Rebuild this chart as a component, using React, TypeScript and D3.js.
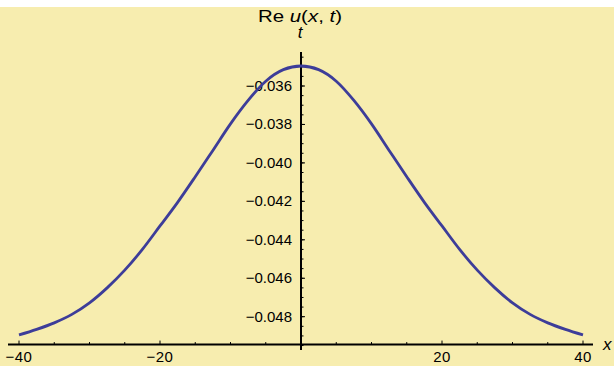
import React from 'react';
import * as d3 from 'd3';

// Values: Re u(x, t) against x
const xValues = [
  -40, -37.5, -35, -32.5, -30, -27.5, -25, -22.5, -20, -17.5, -15, -12.5, -10, -7.5, -5, -2.5,
  0, 2.5, 5, 7.5, 10, 12.5, 15, 17.5, 20, 22.5, 25, 27.5, 30, 32.5, 35, 37.5, 40,
];
const reU = [
  -0.04895, -0.04866, -0.04832, -0.04788, -0.04728, -0.0465, -0.04558, -0.0445, -0.04328,
  -0.04205, -0.04072, -0.03935, -0.03797, -0.03675, -0.03575, -0.03515, -0.03496, -0.03515,
  -0.03575, -0.03675, -0.03797, -0.03935, -0.04072, -0.04205, -0.04328, -0.0445, -0.04558,
  -0.0465, -0.04728, -0.04788, -0.04832, -0.04866, -0.04895,
];

const xMajorTicks = [-40, -20, 20, 40];
const xTickLabels = ['−40', '−20', '20', '40'];
const yMajorTicks = [-0.048, -0.046, -0.044, -0.042, -0.04, -0.038, -0.036];
const yTickLabels = ['−0.048', '−0.046', '−0.044', '−0.042', '−0.040', '−0.038', '−0.036'];

const W = 614;
const H = 366;
const font = '"Liberation Sans", Arial, sans-serif';

export default function App() {
  const x = d3.scaleLinear().domain([-40, 40]).range([19, 583]);
  const y = d3.scaleLinear().domain([-0.048, -0.036]).range([316.7, 86]);

  const xAxisY = y(-0.04945);
  const x0 = x(0);

  const pts = xValues.map((v, i) => [v, reU[i]] as [number, number]);
  const line = d3
    .line<[number, number]>()
    .x((d) => x(d[0]))
    .y((d) => y(d[1]))
    .curve(d3.curveMonotoneX);

  const xMinor = d3.range(-40, 40.1, 5);
  const yMinor = d3.range(-0.0495, -0.0342, 0.0005);

  return (
    <svg
      width={W}
      height={H}
      style={{ position: 'fixed', left: 0, top: 0 }}
      fontFamily={font}
    >
      <rect x={0} y={0} width={W} height={H} fill="#ffffff" />
      <rect x={0} y={7} width={W} height={H - 7} fill="#f7edaf" />

      {/* axes */}
      <line x1={8} x2={593} y1={xAxisY} y2={xAxisY} stroke="#000" strokeWidth={2} />
      <line x1={x0} x2={x0} y1={y(-0.03423)} y2={350} stroke="#000" strokeWidth={2} />

      {/* x ticks */}
      {xMinor.map((t) => (
        <line
          key={'xm' + t}
          x1={x(t)}
          x2={x(t)}
          y1={xAxisY}
          y2={xAxisY - (xMajorTicks.includes(t) ? 4 : 2.5)}
          stroke="#000"
          strokeWidth={1}
        />
      ))}
      {xMajorTicks.map((t, i) => (
        <text
          key={'xl' + t}
          x={x(t)}
          y={362}
          textAnchor="middle"
          fontSize={15}
          letterSpacing={0.5}
        >
          {xTickLabels[i]}
        </text>
      ))}

      {/* y ticks */}
      {yMinor.map((t, i) => (
        <line
          key={'ym' + i}
          x1={x0}
          x2={x0 + 2.5}
          y1={y(t)}
          y2={y(t)}
          stroke="#000"
          strokeWidth={1}
        />
      ))}
      {yMajorTicks.map((t, i) => (
        <g key={'yl' + t}>
          <line x1={x0} x2={x0 + 4} y1={y(t)} y2={y(t)} stroke="#000" strokeWidth={1} />
          <text x={292} y={y(t) + 5} textAnchor="end" fontSize={15}>
            {yTickLabels[i]}
          </text>
        </g>
      ))}

      {/* curve */}
      <path d={line(pts) ?? ''} fill="none" stroke="#3d3d99" strokeWidth={2.8} />

      {/* labels */}
      <text x={300} y={21.5} textAnchor="middle" fontSize={17} textLength={84} lengthAdjust="spacingAndGlyphs">
        Re <tspan fontStyle="italic">u</tspan>(<tspan fontStyle="italic">x</tspan>,{' '}
        <tspan fontStyle="italic">t</tspan>)
      </text>
      <text x={300} y={38} textAnchor="middle" fontSize={17} fontStyle="italic">
        t
      </text>
      <text x={603} y={350} fontSize={17} fontStyle="italic">
        x
      </text>
    </svg>
  );
}
